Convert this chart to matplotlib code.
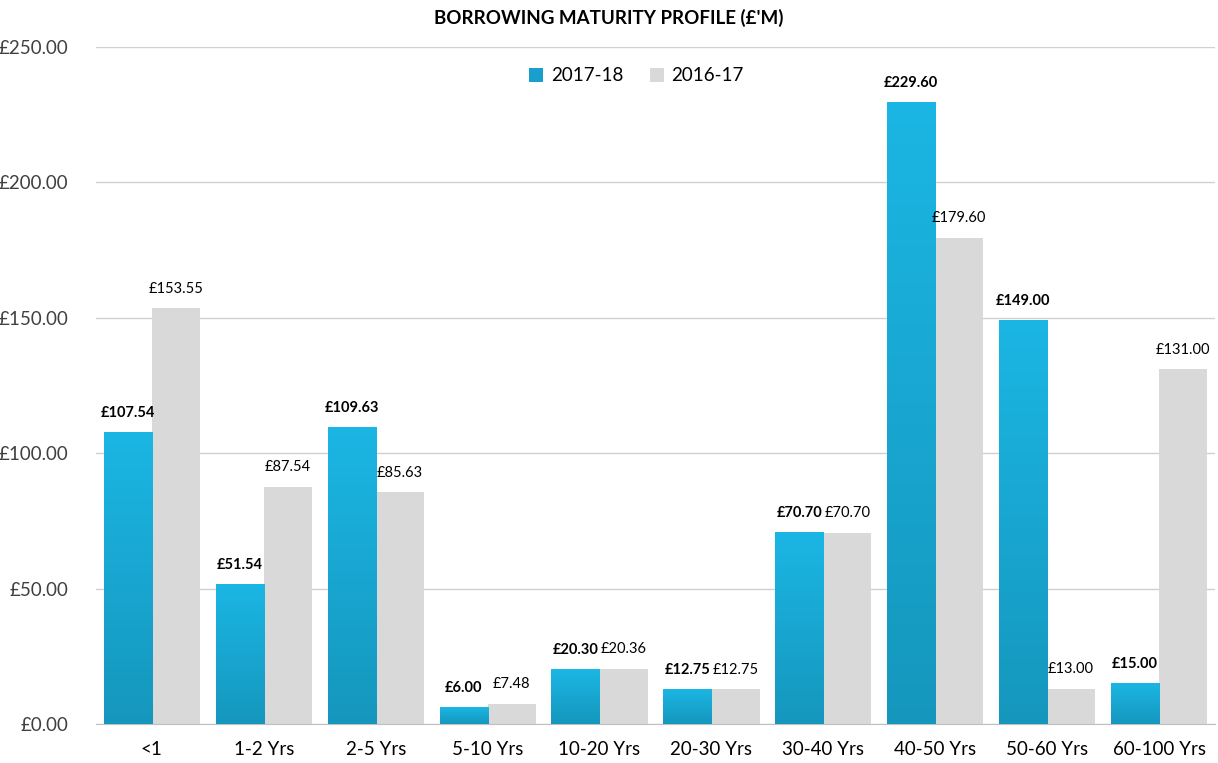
import numpy as np
import matplotlib.pyplot as plt
from matplotlib.colors import LinearSegmentedColormap

plt.rcParams['font.family'] = ['Lato', 'DejaVu Sans']

categories = ['<1', '1-2 Yrs', '2-5 Yrs', '5-10 Yrs', '10-20 Yrs', '20-30 Yrs',
              '30-40 Yrs', '40-50 Yrs', '50-60 Yrs', '60-100 Yrs']
values_2017_18 = [107.54, 51.54, 109.63, 6.00, 20.30, 12.75, 70.70, 229.60, 149.00, 15.00]
values_2016_17 = [153.55, 87.54, 85.63, 7.48, 20.36, 12.75, 70.70, 179.60, 13.00, 131.00]
series_labels = ['2017-18', '2016-17']
y_ticks = [0, 50, 100, 150, 200, 250]

blue_top = '#1bb6e4'
blue_bottom = '#1597bd'
grey = '#d9d9d9'

fig = plt.figure(figsize=(12.18, 7.63), dpi=100)
ax = fig.add_axes([0.0788, 0.0511, 0.9187, 0.8873])

x = np.arange(len(categories))
width = 0.43

# gradient for the 2017-18 bars (light at top, darker at bottom)
cmap = LinearSegmentedColormap.from_list('blue_grad', [blue_bottom, blue_top])
grad = np.linspace(0, 1, 256).reshape(-1, 1)

bars_a = ax.bar(x - width / 2, values_2017_18, width, color=blue_top, zorder=2, label=series_labels[0])
bars_b = ax.bar(x + width / 2, values_2016_17, width, color=grey, zorder=2, label=series_labels[1])

for bar in bars_a:
    x0, y0 = bar.get_x(), bar.get_y()
    w, h = bar.get_width(), bar.get_height()
    ax.imshow(grad, cmap=cmap, origin='lower', aspect='auto',
              extent=(x0, x0 + w, y0, y0 + h), zorder=3)

for xi, v in zip(x, values_2017_18):
    ax.annotate(f'£{v:.2f}', (xi - width / 2, v), xytext=(0, 9), textcoords='offset points',
                ha='center', va='bottom', fontsize=10.5, fontweight='bold', color='#000000')
for xi, v in zip(x, values_2016_17):
    ax.annotate(f'£{v:.2f}', (xi + width / 2, v), xytext=(0, 9), textcoords='offset points',
                ha='center', va='bottom', fontsize=10.5, color='#000000')

ax.set_xlim(-0.5, len(categories) - 0.5)
ax.set_ylim(0, 250)
ax.set_yticks(y_ticks)
ax.set_yticklabels([f'£{t:.2f}' for t in y_ticks])
ax.set_xticks(x)
ax.set_xticklabels(categories)
ax.tick_params(axis='both', length=0, labelsize=13.5, labelcolor='#404040')
ax.tick_params(axis='x', pad=12, labelcolor='#000000')
ax.tick_params(axis='y', pad=20)

ax.grid(axis='y', color='#d0d0d0', linewidth=1, zorder=0)
ax.set_axisbelow(True)
for side in ['top', 'right', 'left']:
    ax.spines[side].set_visible(False)
ax.spines['bottom'].set_color('#bfbfbf')

leg = ax.legend(loc='upper center', bbox_to_anchor=(0.483, 0.995), ncol=2, frameon=False,
                fontsize=13.5, handlelength=0.75, handleheight=0.75, columnspacing=1.4,
                handletextpad=0.4)
leg.get_patches()[0].set_facecolor('#189fcc')

fig.text(0.5, 0.977, "BORROWING MATURITY PROFILE (£'M)", ha='center', va='center',
         fontsize=13.5, fontweight='bold', color='#000000')

fig.savefig('out.png', dpi=100)
